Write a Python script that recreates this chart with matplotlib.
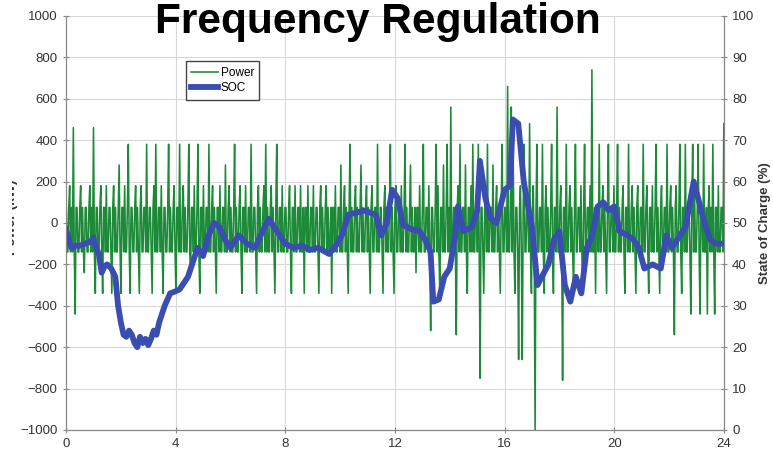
import numpy as np
import matplotlib
matplotlib.use("Agg")
import matplotlib.pyplot as plt
from matplotlib.transforms import Bbox

plt.rcParams['font.family'] = ['Liberation Sans', 'DejaVu Sans']

# Power (kW), 30 readings per hour
power_kw = [
    180, -140, -140, 75, 180, -140, 75, -140, 460, -140, -440, 75, 75, -140, -140, 75, 180, -140, 75, -140, -240, 75, 75, -140, -140, 75, 180, -140, 75, -140,
    460, -140, -340, 75, 75, -140, -140, 75, 180, -140, -340, 75, 75, -140, 180, -140, -140, 75, 75, -140, -340, 75, 180, -140, 75, -140, -140, 75, 280, -140,
    -340, 75, 75, -140, 180, -140, -140, 75, 380, -140, -340, 75, 75, -140, -140, 75, 180, -140, 75, -140, -340, 75, 180, -140, -140, 75, 75, -140, 380, -140,
    -140, 75, 75, -140, -340, 75, 180, -140, 380, -140, -140, 75, 75, -140, 180, -140, -340, 75, 75, -140, -140, 75, 380, -140, 75, -140, -140, 75, 180, -140,
    -340, 75, 75, -140, 380, -140, -140, 75, 180, -140, 75, -140, -140, 75, 380, -140, -240, 75, 75, -140, 180, -140, -140, 75, 380, -140, -340, 75, 75, -140,
    180, -140, -140, 75, 75, -140, 380, -140, -140, 75, 180, -140, 75, -140, -340, 75, 75, -140, 180, -140, -140, 75, 75, -140, 280, -140, -140, 75, 180, -140,
    75, -140, -140, 75, 380, -140, 75, -140, -140, 75, 180, -140, -340, 75, 75, -140, 180, -140, -140, 75, 75, -140, 380, -140, -140, 75, 75, -140, -340, 75,
    180, -140, 75, -140, -140, 75, 180, -140, 380, -140, 75, -140, -140, 75, 180, -140, 75, -140, -340, 75, 380, -140, -140, 75, 75, -140, 180, -140, -140, 75,
    75, -140, -140, 75, 180, -140, -340, 75, 75, -140, 180, -140, -140, 75, 75, -140, 180, -140, -140, 75, -340, 75, 75, -140, 180, -140, -140, 75, 75, -140,
    180, -140, -140, 75, 75, -140, -340, 75, 180, -140, 75, -140, -140, 75, 180, -140, 75, -140, -140, 75, -340, 75, 75, -140, 180, -140, -140, 75, 75, -140,
    280, -140, -140, 75, 180, -140, 75, -140, -340, 75, 380, -140, 75, -140, -140, 75, 180, -140, 75, -140, -140, 75, 280, -140, 75, -140, -140, 75, 180, -140,
    75, -140, -340, 75, 180, -140, -140, 75, 75, -140, 380, -140, -140, 75, 75, -140, -340, 75, 180, -140, 75, -140, -140, 75, 380, -140, 75, -140, -340, 75,
    180, -140, -140, 75, 75, -140, 180, -140, -140, 75, 380, -140, 75, -140, -140, 75, 280, -140, 75, -140, -140, 75, -240, 75, 75, -140, 180, -140, -140, 75,
    380, -140, -140, 75, 75, -140, 180, -140, -520, 75, 75, -140, -140, 75, 380, -140, 180, -140, -340, 75, 75, -140, 280, -140, -140, 75, 380, -140, 75, -140,
    560, -140, -140, 75, 75, -140, -540, 75, 180, -140, 380, -140, -140, 75, 75, -140, 280, -140, -340, 75, 75, -140, 180, -140, 380, -140, -140, 75, 75, -140,
    380, -140, -750, 75, 75, -140, -340, 75, 180, -140, 380, -140, -140, 75, 75, -140, 280, -140, -140, 75, 180, -140, 75, -140, -340, 75, 380, -140, -140, 75,
    75, -140, 660, -140, -140, 75, 560, -140, 380, -140, -340, 75, 75, -140, -660, 75, 180, -140, -660, 75, 380, -140, -140, 75, 75, -140, 480, -140, -340, 75,
    180, -140, -1000, 75, 380, -140, -140, 75, 75, -140, 380, -140, -340, 75, 180, -140, 75, -140, -140, 75, 380, -140, -340, 75, 75, -140, 560, -140, -140, 75,
    180, -140, -760, 75, 75, -140, 380, -140, -140, 75, 180, -140, 75, -140, -340, 75, 380, -140, -140, 75, 75, -140, 180, -140, -340, 75, 380, -140, -140, 75,
    75, -140, 180, -140, 740, -140, -140, 75, -340, 75, 75, -140, 380, -140, -140, 75, 180, -140, 75, -140, -340, 75, 380, -140, -140, 75, 75, -140, 180, -140,
    -140, 75, 380, -140, 75, -140, -140, 75, 180, -140, -340, 75, 75, -140, 380, -140, -140, 75, 180, -140, 75, -140, -340, 75, 180, -140, -140, 75, 75, -140,
    380, -140, -140, 75, 180, -140, -340, 75, 75, -140, 180, -140, -140, 75, 380, -140, 75, -140, -340, 75, 180, -140, -140, 75, 75, -140, 380, -140, -140, 75,
    180, -140, 75, -140, -540, 75, 180, -140, -140, 75, 380, -140, -340, 75, 75, -140, 380, -140, -140, 75, 75, -140, -440, 75, 380, -140, 180, -140, -140, 75,
    380, -140, -440, 75, 75, -140, 380, -140, -140, 75, -440, 75, 180, -140, 75, -140, 380, -140, -440, 75, 75, -140, 180, -140, -140, 75, 75, -140, 480,
]
power_hours = np.linspace(0, 24, len(power_kw))

# State of charge (%)
soc_hours = [0.0, 0.1, 0.2, 0.35, 0.5, 0.7, 0.9, 1.0, 1.1, 1.2, 1.3, 1.4, 1.5,
             1.65, 1.8, 1.9, 2.0, 2.1, 2.2, 2.3, 2.4, 2.5, 2.6, 2.7, 2.8, 2.9,
             3.0, 3.1, 3.2, 3.3, 3.4, 3.5, 3.6, 3.8, 4.0, 4.15, 4.3, 4.45, 4.6,
             4.8, 5.0, 5.2, 5.4, 5.6, 5.8, 6.0, 6.15, 6.3, 6.45, 6.6, 6.9, 7.1,
             7.4, 7.7, 8.0, 8.3, 8.6, 8.9, 9.2, 9.6, 9.9, 10.1, 10.3, 10.6,
             10.9, 11.1, 11.3, 11.5, 11.7, 11.9, 12.1, 12.3, 12.6, 12.9, 13.1,
             13.3, 13.4, 13.6, 13.8, 14.0, 14.1, 14.2, 14.3, 14.5, 14.8, 15.0,
             15.1, 15.3, 15.5, 15.7, 16.0, 16.2, 16.3, 16.5, 16.7, 16.9, 17.0,
             17.2, 17.4, 17.6, 17.8, 18.0, 18.2, 18.4, 18.6, 18.8, 19.0, 19.2,
             19.4, 19.6, 19.8, 20.0, 20.2, 20.5, 20.7, 20.9, 21.1, 21.4, 21.7,
             21.9, 22.1, 22.3, 22.6, 22.9, 23.1, 23.3, 23.5, 23.7, 24.0]
soc_pct = [48.5, 46, 44, 44.5, 44.5, 45, 45.5, 46.5, 44, 42.5, 38, 39.5, 40,
           39, 37, 30, 26, 23, 22.5, 24, 23, 21, 20, 22.5, 21, 22, 20.5, 22,
           24, 23, 26, 28, 30, 33, 33.5, 34, 35.5, 37, 40, 44, 42, 47, 50, 49,
           46, 44, 45.5, 47, 46, 45, 44, 47, 51, 48, 45, 44, 44.5, 43.5, 44,
           42.5, 45, 47.5, 52, 52.5, 53, 52.5, 52, 47, 50, 58, 56, 49.5, 48.5,
           48, 46, 43, 31, 31.5, 37, 39, 43, 47, 54, 48, 49, 53, 65, 56, 51,
           50, 58, 59, 75, 74, 60, 52.5, 49, 35, 37.5, 40, 46, 48, 35, 31, 37,
           33, 44, 47, 54, 55, 53, 54, 48, 47, 46, 44, 39, 40, 39, 47, 44, 46,
           49, 60, 55, 50, 46, 45, 45]

fig = plt.figure(figsize=(7.73, 4.53), dpi=100)
ax = fig.add_axes([0.0854, 0.0508, 0.851, 0.914])
ax2 = ax.twinx()

ax.plot(power_hours, power_kw, color='#1c8a38', lw=1.15, label='Power')
ax2.plot(soc_hours, soc_pct, color='#3a4db0', lw=4.2, label='SOC',
         solid_joinstyle='round')

ax.set_xlim(0, 24)
ax.set_ylim(-1000, 1000)
ax2.set_ylim(0, 100)
ax.set_xticks(range(0, 25, 4))
ax.set_yticks(range(-1000, 1001, 200))
ax2.set_yticks(range(0, 101, 10))
ax.grid(True, color='#d8d8d8', lw=0.8)
ax.set_axisbelow(True)

for a in (ax, ax2):
    a.spines['top'].set_visible(False)
    for s in ('left', 'right', 'bottom'):
        a.spines[s].set_color('#888888')
    a.tick_params(labelsize=9.5, colors='#888888', labelcolor='#333333',
                  direction='inout', length=5)

ax2.set_ylabel('State of Charge (%)', fontsize=9.5, fontweight='bold',
               color='#333333', labelpad=3)

# left label is partly cut off by the left edge of the picture
ylab = fig.text(11 / 773, 0.52, 'Power (kW)', rotation=90, va='center',
                ha='center', fontsize=10, fontweight='bold', color='#333333')
ylab.set_clip_box(Bbox([[12, 0], [60, 453]]))
ylab.set_clip_on(True)

fig.text(0.489, 0.927, 'Frequency Regulation', ha='center', va='baseline',
         fontsize=30.5, fontweight='bold', color='black')

h1, l1 = ax.get_legend_handles_labels()
h2, l2 = ax2.get_legend_handles_labels()
leg = ax2.legend(h1 + h2, l1 + l2, loc='upper left',
                 bbox_to_anchor=(0.182, 0.89), fontsize=8.5, fancybox=False,
                 framealpha=1, edgecolor='#444444', handlelength=2.3,
                 borderpad=0.45, labelspacing=0.3, handletextpad=0.2,
                 borderaxespad=0)
leg.get_frame().set_linewidth(1.0)

fig.savefig('out.png', dpi=100)
